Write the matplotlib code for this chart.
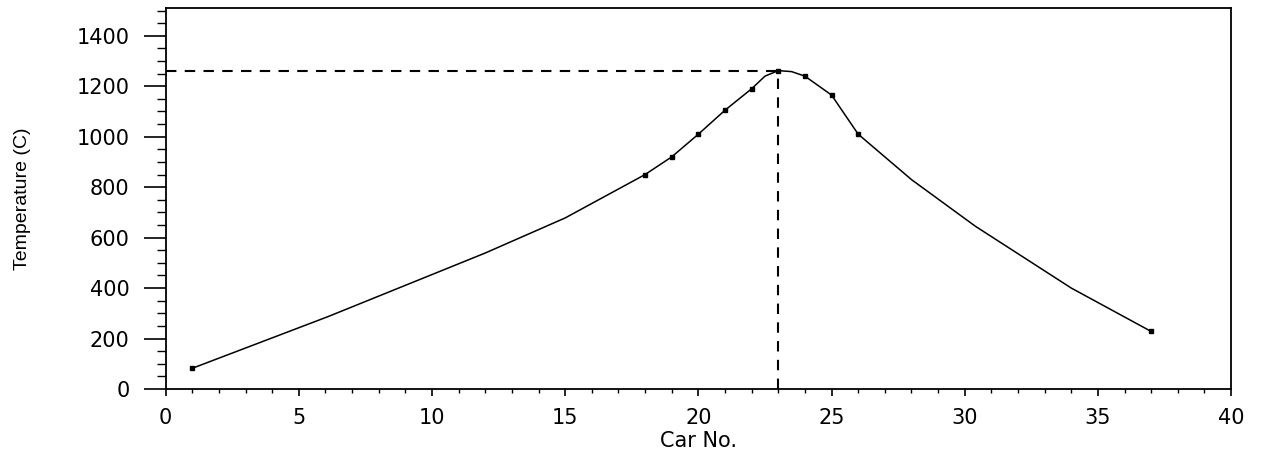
import numpy as np
import matplotlib
matplotlib.use("Agg")
from matplotlib import pyplot as plt
from matplotlib.ticker import MultipleLocator

# measured points (markers)
car_no = [1, 18, 19, 20, 21, 22, 23, 24, 25, 26, 37]
temp_c = [82, 850, 920, 1010, 1105, 1190, 1262, 1240, 1165, 1010, 228]

# points
curve_x = [1, 6.1, 12, 15, 18, 19, 20, 21, 22, 22.5, 23, 23.5, 24, 25, 26,
           28, 30.4, 34, 37]
curve_t = [82, 287, 539, 678, 850, 920, 1010, 1105, 1190, 1240, 1262, 1258,
           1240, 1165, 1010, 830, 645, 400, 228]

peak_x = 23
peak_t = 1262

plt.rcParams['font.family'] = ['DejaVu Sans']

fig = plt.figure(figsize=(12.64, 4.59), dpi=100)
ax = fig.add_axes([0.131, 0.1525, 0.843, 0.830])

ax.plot(curve_x, curve_t, color='black', lw=1.1)
ax.plot(car_no, temp_c, ls='none', marker='s', ms=3.2, color='black')

# dashed guide lines to the peak
ax.plot([0, peak_x], [peak_t, peak_t], color='black', lw=1.5, dashes=(5, 4))
ax.plot([peak_x, peak_x], [0, peak_t], color='black', lw=1.5, dashes=(5, 4))

ax.set_xlim(0, 40)
ax.set_ylim(0, 1510)
ax.xaxis.set_major_locator(MultipleLocator(5))
ax.xaxis.set_minor_locator(MultipleLocator(1))
ax.yaxis.set_major_locator(MultipleLocator(200))
ax.yaxis.set_minor_locator(MultipleLocator(50))

ax.tick_params(axis='x', which='major', direction='out', length=5, width=1.2,
               pad=9, labelsize=15)
ax.tick_params(axis='x', which='minor', direction='out', length=3, width=1.0)
ax.tick_params(axis='y', which='major', direction='out', length=16, width=1.2,
               pad=10, labelsize=15)
ax.tick_params(axis='y', which='minor', direction='out', length=6.5, width=1.0)

for s in ax.spines.values():
    s.set_linewidth(1.3)

ax.set_xlabel('Car No.', fontsize=15, labelpad=2)
ax.set_ylabel('Temperature (C)', fontsize=14, family='Liberation Sans')
ax.yaxis.set_label_coords(-0.126, 0.5)

fig.savefig('out.png', dpi=100, facecolor='white')
